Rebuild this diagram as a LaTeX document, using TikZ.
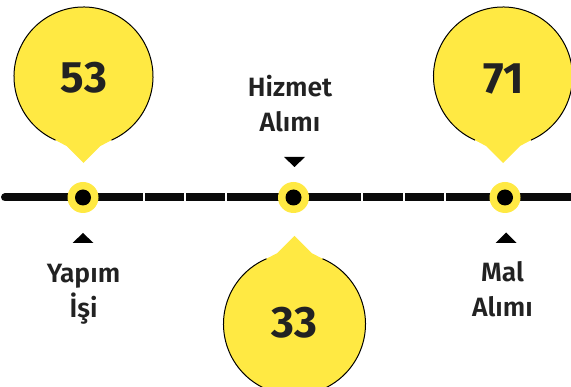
\documentclass[tikz,border=0pt]{standalone}
\usepackage{fontspec}
\setmainfont{Fira Sans}
\newfontfamily\labfont{Fira Sans SemiBold}
\newfontfamily\numfont{Fira Sans Bold}
\definecolor{bubyellow}{HTML}{FFE943}
\definecolor{txtdark}{HTML}{222222}
\definecolor{linedark}{HTML}{0A0A0A}
\tikzset{
  bubblefill/.style={fill=bubyellow},
  bubbleline/.style={draw=black, line width=1pt},
  numtext/.style={font=\numfont\fontsize{44}{44}\selectfont, text=txtdark, inner sep=0pt},
  labtext/.style={font=\labfont\fontsize{26.5}{30}\selectfont, text=txtdark, inner sep=0pt, anchor=base},
  tri/.style={fill=black},
  timeline/.style={draw=linedark, line width=8pt, line cap=round},
  sep/.style={draw=white, line width=1.3pt},
}
\newcommand\mybubble[3]{%
  \begin{scope}[shift={#1}, yscale=#3]
    \fill[bubblefill] (0,0) circle[radius=#2];
    \pgfmathsetmacro\sy{sqrt(#2*#2-784)}
    \fill[bubblefill] (-28,\sy) .. controls (-22,{#2-3}) .. (-17,#2) -- (0,{#2+17}) -- (17,#2) .. controls (22,{#2-3}) .. (28,\sy) -- (0,{#2-30}) -- cycle;
    \pgfmathsetmacro\ga{asin(28/#2)}
    \draw[bubbleline] ({90+\ga}:#2) arc[start angle={90+\ga}, end angle={450-\ga}, radius=#2];
  \end{scope}}
\begin{document}
\begin{tikzpicture}[x=1pt, y=-1pt]
  \useasboundingbox (0,0) rectangle (571,387);
  \clip (0,0) rectangle (571,387);
  \fill[white] (0,0) rectangle (571,387);
  % timeline
  \coordinate (lstart) at (5,197.5);
  \coordinate (lend) at (580,197.5);
  \draw[timeline] (lstart) -- (lend);
  \foreach \sx in {144,185,226,362,404,445}{
    \draw[sep] (\sx,192) -- (\sx,203);
  }
  % dots
  \foreach \dn/\dx in {d1/83,d2/293.5,d3/505}{
    \fill[bubyellow] (\dx,197.5) circle[radius=15.5];
    \fill[black] (\dx,197.5) circle[radius=8];
    \coordinate (\dn) at (\dx,197.5);
  }
  % bubbles
  \mybubble{(83.5,76.5)}{69.5}{1}
  \mybubble{(503,76.5)}{69.5}{1}
  \mybubble{(294.5,324)}{71}{-1}
  \node[numtext] (n53) at (84,77.5) {53};
  \node[numtext] (n71) at (503.5,78.5) {71};
  \node[numtext] (n33) at (294.5,322.5) {33};
  % triangles
  \fill[tri] (72.5,243) -- (93.5,243) -- (83,233) -- cycle;
  \fill[tri] (495.5,243) -- (516.5,243) -- (506,232.5) -- cycle;
  \fill[tri] (284,157) -- (305,157) -- (294.5,167) -- cycle;
  % labels
  \node[labtext] (y1) at (83.5,283) {Yapım};
  \node[labtext] (y2) at (83.5,318) {İşi};
  \node[labtext] (h1) at (290,97) {Hizmet};
  \node[labtext] (h2) at (290,132) {Alımı};
  \node[labtext] (m1) at (502.5,282) {Mal};
  \node[labtext] (m2) at (502.5,317) {Alımı};
\end{tikzpicture}
\end{document}
